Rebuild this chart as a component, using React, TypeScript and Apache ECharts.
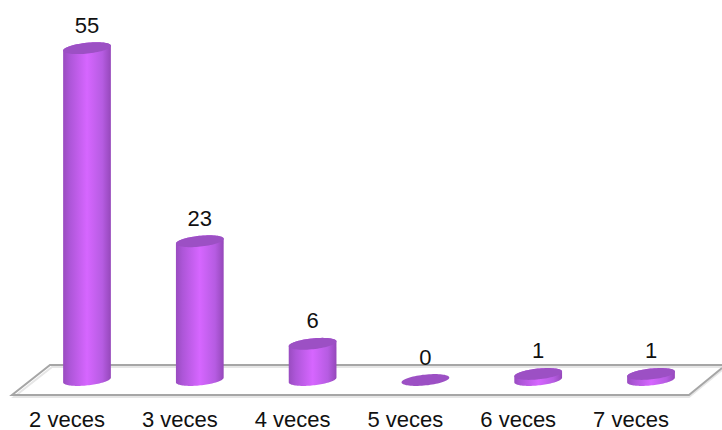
import React, { useEffect, useRef } from "react";
import * as echarts from "echarts";

const categories = ["2 veces", "3 veces", "4 veces", "5 veces", "6 veces", "7 veces"];
const values = [55, 23, 6, 0, 1, 1];

const FONT = '"Liberation Sans", Arial, sans-serif';

const RX = 24;
const RY = 5.4;
const ROT = (-6 * Math.PI) / 180;

function ellipsePoint(cx: number, cy: number, t: number): number[] {
  const c = RX * Math.cos(t);
  const s = RY * Math.sin(t);
  return [cx + c * Math.cos(ROT) - s * Math.sin(ROT), cy + c * Math.sin(ROT) + s * Math.cos(ROT)];
}

function arcPoints(cx: number, cy: number, from: number, to: number, n: number): number[][] {
  const pts: number[][] = [];
  for (let i = 0; i <= n; i++) {
    pts.push(ellipsePoint(cx, cy, from + ((to - from) * i) / n));
  }
  return pts;
}

function renderCylinder(_params: any, api: any) {
  const cat = api.value(0);
  const val = api.value(1);
  const [cx, base] = api.coord([cat, 0]);
  const [, top] = api.coord([cat, val]);
  const children: any[] = [];
  if (val > 0) {
    const lower = arcPoints(cx, base, Math.PI, 0, 48);
    const upper = arcPoints(cx, top, 0, -Math.PI, 48);
    children.push({
      type: "polygon",
      shape: { points: lower.concat(upper) },
      style: {
        fill: new echarts.graphic.LinearGradient(0, 0, 1, 0, [
          { offset: 0, color: "#994cc0" },
          { offset: 0.14, color: "#ad56d8" },
          { offset: 0.5, color: "#d666ff" },
          { offset: 0.82, color: "#b65ce2" },
          { offset: 1, color: "#9548ba" },
        ]),
      },
    });
  }
  children.push({
    type: "polygon",
    shape: { points: arcPoints(cx, top, 0, 2 * Math.PI, 72) },
    style: { fill: "#9c50c4" },
  });
  children.push({
    type: "text",
    style: {
      text: String(val),
      x: cx,
      y: top - 23,
      fill: "#111111",
      font: `22px ${FONT}`,
      align: "center",
      verticalAlign: "middle",
    },
  });
  return { type: "group", children };
}

export default function App() {
  const ref = useRef<HTMLDivElement>(null);
  useEffect(() => {
    const chart = echarts.init(ref.current!, undefined, { renderer: "svg" });
    chart.setOption({
      animation: false,
      backgroundColor: "#ffffff",
      grid: { left: 30.6, width: 676.8, top: 18, height: 364.7 },
      xAxis: {
        type: "category",
        data: categories,
        axisLine: { show: false },
        axisTick: { show: false },
        splitLine: { show: false },
        axisLabel: { color: "#111111", fontFamily: FONT, fontSize: 22, margin: 28, interval: 0, padding: [0, 40, 0, 0] },
      },
      yAxis: { type: "value", min: 0, max: 60, show: false },
      graphic: [
        {
          type: "polyline",
          silent: true,
          shape: { points: [[722, 367], [52, 367], [14, 397], [689, 397], [722, 370]] },
          style: { stroke: "#e6e6e6", lineWidth: 2, fill: "none" },
        },
        {
          type: "polyline",
          silent: true,
          shape: { points: [[722, 365], [50, 365], [12, 395], [689, 395], [722, 368]] },
          style: { stroke: "#a6a6a6", lineWidth: 2, fill: "none" },
        },
      ],
      series: [
        {
          type: "custom",
          renderItem: renderCylinder,
          clip: false,
          encode: { x: 0, y: 1 },
          data: values.map((v, i) => [i, v]),
        },
      ],
    });
    return () => chart.dispose();
  }, []);
  return <div ref={ref} style={{ position: "fixed", left: 0, top: 0, width: 722, height: 430 }} />;
}
